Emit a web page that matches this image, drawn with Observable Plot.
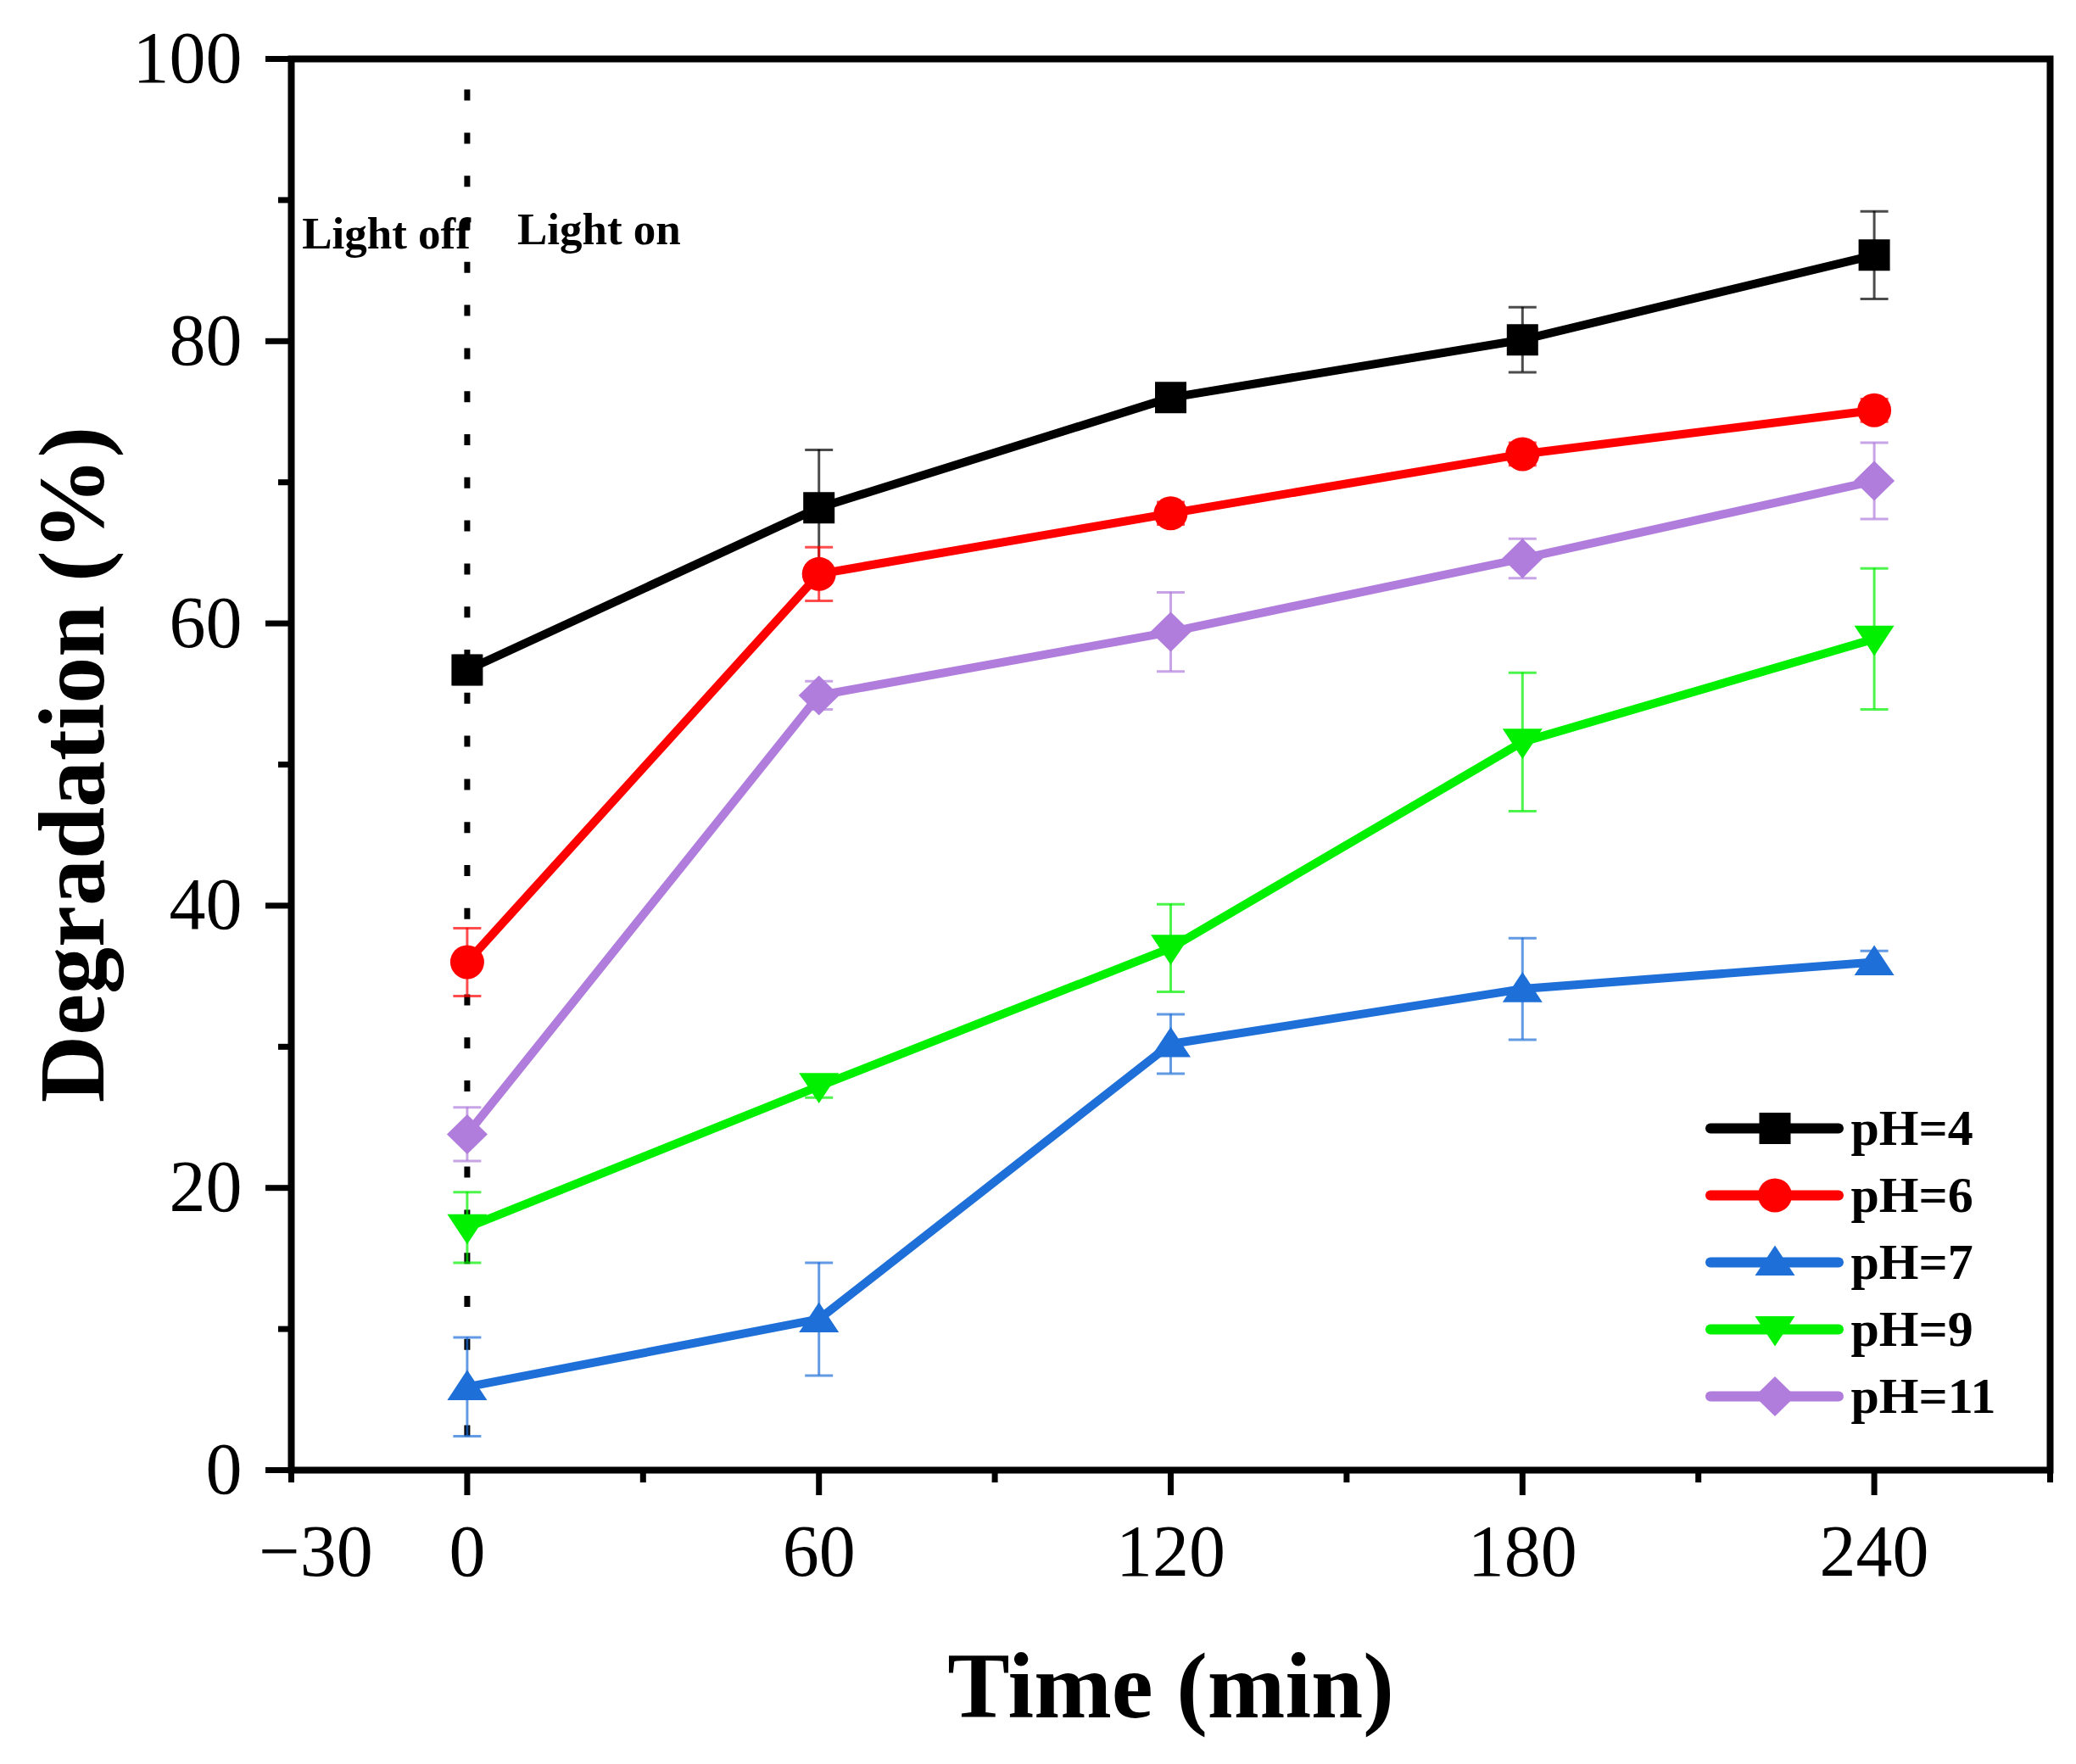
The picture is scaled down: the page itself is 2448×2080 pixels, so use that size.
<!DOCTYPE html>
<html>
<head>
<meta charset="utf-8">
<script src="https://cdn.jsdelivr.net/npm/d3@7"></script>
<script src="https://cdn.jsdelivr.net/npm/@observablehq/plot@0.6"></script>
<style>
html, body { margin: 0; padding: 0; background: #ffffff; }
#wrap { position: relative; width: 2448px; height: 2080px; overflow: hidden; }
#chart { position: absolute; left: 0; top: 0; }
#legend { position: absolute; left: 2005px; top: 1285px; }
</style>
</head>
<body>
<div id="wrap"><div id="chart"></div><div id="legend"></div></div>
<script>
// ---------------- data ----------------
const times = [0, 60, 120, 180, 240];
const seriesNames = ["pH=4", "pH=6", "pH=7", "pH=9", "pH=11"];

const pH4 = [56.7, 68.2, 76.0, 80.1, 86.1];
const pH4Err = [1.0, 4.1, 0.8, 2.3, 3.1];
const pH6 = [36.0, 63.5, 67.8, 72.0, 75.1];
const pH6Err = [2.4, 1.9, 0.8, 0.8, 0.8];
const pH7 = [5.9, 10.7, 30.2, 34.1, 36.0];
const pH7Err = [3.5, 4.0, 2.1, 3.6, 0.8];
const pH9 = [17.2, 27.2, 37.0, 51.6, 58.9];
const pH9Err = [2.5, 0.8, 3.1, 4.9, 5.0];
const pH11 = [23.8, 54.9, 59.4, 64.6, 70.1];
const pH11Err = [1.9, 1.0, 2.8, 1.4, 2.7];

const xMajorTicks = [0, 60, 120, 180, 240];
const xMinorTicks = [-30, 30, 90, 150, 210, 270];
const xEdgeLabel = [-30];
const yMajorTicks = [0, 20, 40, 60, 80, 100];
const yMinorTicks = [10, 30, 50, 70, 90];
const xDomain = [-30, 270];
const yDomain = [0, 100];

const xTitle = "Time (min)";
const yTitle = "Degradation (%)";
const lightOffLabel = "Light off";
const lightOnLabel = "Light on";
const dividerTime = 0;
const dividerTop = 97.8;
const lightOffY = 87.6;
const lightOnY = 87.9;

// ---------------- styles ----------------
const colors = ["#000000", "#ff0000", "#1f6fd9", "#00f000", "#b07ddd"];
function sym(fn) { return { draw(ctx, size) { fn(ctx, Math.sqrt(size / Math.PI)); } }; }
const symSquare = sym((c, r) => { c.rect(-0.925 * r, -0.925 * r, 1.85 * r, 1.85 * r); });
const symCircle = sym((c, r) => { c.moveTo(r, 0); c.arc(0, 0, r, 0, 2 * Math.PI); });
const symUp = sym((c, r) => { c.moveTo(0, -1.0 * r); c.lineTo(1.175 * r, 0.78 * r); c.lineTo(-1.175 * r, 0.78 * r); c.closePath(); });
const symDown = sym((c, r) => { c.moveTo(0, 1.0 * r); c.lineTo(1.175 * r, -0.78 * r); c.lineTo(-1.175 * r, -0.78 * r); c.closePath(); });
const symDiamond = sym((c, r) => { c.moveTo(0, -1.175 * r); c.lineTo(1.2 * r, 0); c.lineTo(0, 1.175 * r); c.lineTo(-1.2 * r, 0); c.closePath(); });
const symbols = [symSquare, symCircle, symUp, symDown, symDiamond];
const capSymbol = { draw(ctx, size) { const w = Math.sqrt(size); ctx.moveTo(-w / 2, 0); ctx.lineTo(w / 2, 0); } };

const serif = "'Liberation Serif', 'Times New Roman', Times, serif";

// ---------------- table ----------------
const valueLists = [pH4, pH6, pH7, pH9, pH11];
const errLists = [pH4Err, pH6Err, pH7Err, pH9Err, pH11Err];
const rows = seriesNames.flatMap((s, k) =>
  times.map((t, i) => ({ series: s, k, t, v: valueLists[k][i], e: errLists[k][i] })));

const colorScale = { domain: seriesNames, range: colors };

const lineMarks = [];
const errMarks = [];
const dotMarks = [];
seriesNames.forEach((s, k) => {
  const data = rows.filter(d => d.series === s);
  lineMarks.push(Plot.line(data, { x: "t", y: "v", stroke: "series", strokeWidth: 10, strokeLinejoin: "round" }));
  errMarks.push(Plot.ruleX(data, { x: "t", y1: d => d.v - d.e, y2: d => d.v + d.e, stroke: "series", strokeWidth: 3, strokeOpacity: 0.7 }));
  errMarks.push(Plot.dot(data, { x: "t", y: d => d.v + d.e, symbol: capSymbol, r: 18.6, stroke: "series", fill: "none", strokeWidth: 3, strokeOpacity: 0.7 }));
  errMarks.push(Plot.dot(data, { x: "t", y: d => d.v - d.e, symbol: capSymbol, r: 18.6, stroke: "series", fill: "none", strokeWidth: 3, strokeOpacity: 0.7 }));
  dotMarks.push(Plot.dot(data, { x: "t", y: "v", symbol: symbols[k], r: 20, fill: "series", stroke: "none" }));
});

const chart = Plot.plot({
  width: 2448,
  height: 2080,
  marginLeft: 343,
  marginRight: 31,
  marginTop: 69,
  marginBottom: 347,
  style: { fontFamily: serif, fontSize: "86px", color: "#000", background: "#fff" },
  x: { domain: xDomain, label: null },
  y: { domain: yDomain, label: null },
  color: colorScale,
  marks: [
    Plot.ruleX([dividerTime], { x: d => d, y1: () => dividerTop, y2: () => yDomain[0], stroke: "black", strokeWidth: 7, strokeDasharray: "13,37.8" }),
    ...lineMarks,
    ...errMarks,
    ...dotMarks,
    Plot.text([lightOffLabel], { x: () => dividerTime, y: () => lightOffY, text: d => d, textAnchor: "end", dx: 4, fontSize: 53, fontWeight: "bold", fill: "black" }),
    Plot.text([lightOnLabel], { x: () => dividerTime, y: () => lightOnY, text: d => d, textAnchor: "start", dx: 59, fontSize: 53, fontWeight: "bold", fill: "black" }),
    Plot.axisX(xMajorTicks, { anchor: "bottom", tickSize: 30, tickPadding: 33, strokeWidth: 7, fontSize: 86, label: null }),
    Plot.axisX(xMinorTicks, { anchor: "bottom", tickSize: 15, strokeWidth: 7, tickFormat: () => "", label: null }),
    Plot.axisX(xEdgeLabel, { anchor: "bottom", tickSize: 0, tickPadding: 63, dx: 29, fontSize: 86, label: null }),
    Plot.axisY(yMajorTicks, { anchor: "left", tickSize: 30, tickPadding: 28, strokeWidth: 7, fontSize: 86, label: null }),
    Plot.axisY(yMinorTicks, { anchor: "left", tickSize: 15, strokeWidth: 7, tickFormat: () => "", label: null }),
    Plot.text([yTitle], { frameAnchor: "left", text: d => d, rotate: -90, textAnchor: "middle", lineAnchor: "middle", dx: -257, fontSize: 110, fontWeight: "bold", fill: "black" }),
    Plot.text([xTitle], { frameAnchor: "bottom", text: d => d, textAnchor: "middle", lineAnchor: "bottom", dy: 291, fontSize: 110, fontWeight: "bold", fill: "black" }),
    Plot.frame({ stroke: "black", strokeWidth: 8 })
  ]
});
document.getElementById("chart").appendChild(chart);

// ---------------- legend ----------------
const legendRows = seriesNames.map((name, k) => ({ name, k }));
const legendDots = seriesNames.map((s, k) =>
  Plot.dot(legendRows.filter(d => d.name === s), { x: () => 0.5, y: "name", symbol: symbols[k], r: 20, fill: "name", stroke: "none" }));
const legend = Plot.plot({
  width: 330,
  height: 400,
  marginLeft: 12,
  marginRight: 167,
  marginTop: 44,
  marginBottom: 38,
  style: { fontFamily: serif, background: "transparent", overflow: "visible" },
  x: { domain: [0, 1], axis: null },
  y: { type: "point", domain: seriesNames, padding: 0, axis: null },
  color: colorScale,
  marks: [
    Plot.ruleY(legendRows, { y: "name", x1: () => 0, x2: () => 1, stroke: "name", strokeWidth: 12, strokeLinecap: "round" }),
    ...legendDots,
    Plot.text(legendRows, { x: () => 1, y: "name", text: "name", dx: 14, textAnchor: "start", fontSize: 60, fontWeight: "bold", fill: "black" })
  ]
});
document.getElementById("legend").appendChild(legend);
</script>
</body>
</html>
